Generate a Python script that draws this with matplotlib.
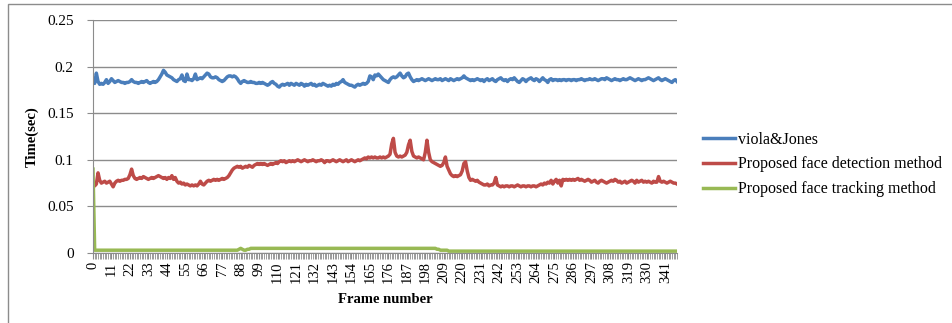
import matplotlib
matplotlib.use("Agg")
import matplotlib.pyplot as plt
from matplotlib.patches import Rectangle
from matplotlib.ticker import MultipleLocator

# Data (one value per frame, frames 0..348)
viola_jones = [
    0.183, 0.182, 0.193, 0.184, 0.181, 0.182, 0.181, 0.183, 0.186, 0.182,
    0.184, 0.187, 0.185, 0.183, 0.184, 0.185, 0.184, 0.183, 0.183, 0.182,
    0.183, 0.183, 0.184, 0.186, 0.184, 0.183, 0.183, 0.182, 0.183, 0.184,
    0.183, 0.184, 0.185, 0.183, 0.182, 0.183, 0.184, 0.183, 0.184, 0.186,
    0.189, 0.192, 0.196, 0.194, 0.191, 0.190, 0.189, 0.188, 0.186, 0.185,
    0.184, 0.186, 0.187, 0.191, 0.185, 0.184, 0.192, 0.186, 0.186, 0.185,
    0.187, 0.192, 0.186, 0.187, 0.188, 0.187, 0.189, 0.191, 0.193, 0.192,
    0.189, 0.188, 0.188, 0.189, 0.188, 0.186, 0.185, 0.184, 0.185, 0.187,
    0.189, 0.190, 0.190, 0.189, 0.190, 0.189, 0.187, 0.184, 0.182, 0.184,
    0.185, 0.184, 0.183, 0.183, 0.184, 0.183, 0.183, 0.182, 0.182, 0.183,
    0.182, 0.183, 0.182, 0.181, 0.180, 0.181, 0.183, 0.184, 0.182, 0.181,
    0.179, 0.178, 0.180, 0.181, 0.180, 0.181, 0.182, 0.180, 0.182, 0.181,
    0.180, 0.182, 0.181, 0.180, 0.182, 0.181, 0.179, 0.181, 0.180, 0.181,
    0.182, 0.180, 0.181, 0.179, 0.180, 0.181, 0.180, 0.182, 0.181, 0.180,
    0.179, 0.180, 0.179, 0.181, 0.180, 0.182, 0.181, 0.183, 0.184, 0.186,
    0.183, 0.182, 0.181, 0.180, 0.180, 0.179, 0.178, 0.180, 0.181, 0.180,
    0.181, 0.182, 0.181, 0.182, 0.184, 0.190, 0.189, 0.186, 0.191, 0.190,
    0.192, 0.190, 0.188, 0.186, 0.185, 0.184, 0.183, 0.186, 0.188, 0.189,
    0.188, 0.189, 0.191, 0.193, 0.190, 0.188, 0.189, 0.192, 0.193, 0.189,
    0.186, 0.184, 0.185, 0.186, 0.185, 0.186, 0.187, 0.186, 0.185, 0.186,
    0.187, 0.186, 0.185, 0.186, 0.187, 0.186, 0.186, 0.187, 0.185, 0.186,
    0.187, 0.186, 0.185, 0.187, 0.186, 0.185, 0.186, 0.187, 0.186, 0.187,
    0.188, 0.190, 0.188, 0.187, 0.186, 0.185, 0.186, 0.185, 0.186, 0.187,
    0.186, 0.185, 0.186, 0.184, 0.186, 0.187, 0.185, 0.186, 0.187, 0.185,
    0.184, 0.186, 0.187, 0.188, 0.186, 0.185, 0.186, 0.184, 0.186, 0.187,
    0.186, 0.188, 0.186, 0.184, 0.183, 0.185, 0.187, 0.186, 0.184, 0.186,
    0.187, 0.188, 0.186, 0.185, 0.187, 0.186, 0.184, 0.186, 0.188, 0.186,
    0.185, 0.183, 0.186, 0.187, 0.185, 0.186, 0.186, 0.185, 0.186, 0.185,
    0.186, 0.186, 0.185, 0.186, 0.186, 0.185, 0.186, 0.186, 0.185, 0.186,
    0.186, 0.187, 0.186, 0.185, 0.186, 0.186, 0.187, 0.186, 0.186, 0.187,
    0.186, 0.185, 0.186, 0.187, 0.187, 0.186, 0.188, 0.187, 0.186, 0.185,
    0.186, 0.187, 0.186, 0.186, 0.185, 0.186, 0.187, 0.186, 0.186, 0.187,
    0.188, 0.187, 0.186, 0.185, 0.186, 0.187, 0.186, 0.185, 0.186, 0.186,
    0.187, 0.188, 0.187, 0.186, 0.185, 0.186, 0.187, 0.188, 0.186, 0.185,
    0.186, 0.187, 0.186, 0.185, 0.184, 0.183, 0.185, 0.186, 0.184,
]

face_detection = [
    0.075, 0.072, 0.074, 0.086, 0.078, 0.075, 0.076, 0.077, 0.075, 0.076,
    0.077, 0.074, 0.071, 0.075, 0.077, 0.078, 0.077, 0.078, 0.078, 0.079,
    0.079, 0.080, 0.084, 0.090, 0.083, 0.080, 0.079, 0.080, 0.081, 0.080,
    0.082, 0.081, 0.080, 0.079, 0.080, 0.081, 0.080, 0.081, 0.082, 0.083,
    0.082, 0.081, 0.080, 0.081, 0.079, 0.081, 0.080, 0.083, 0.079, 0.081,
    0.077, 0.075, 0.076, 0.074, 0.075, 0.073, 0.074, 0.073, 0.072, 0.073,
    0.072, 0.073, 0.072, 0.074, 0.077, 0.074, 0.073, 0.075, 0.077, 0.078,
    0.077, 0.078, 0.079, 0.078, 0.079, 0.078, 0.079, 0.080, 0.079, 0.080,
    0.081, 0.083, 0.086, 0.089, 0.091, 0.092, 0.093, 0.092, 0.093, 0.091,
    0.092, 0.093, 0.092, 0.094, 0.093, 0.092, 0.094, 0.095, 0.096, 0.095,
    0.096, 0.095, 0.096, 0.095, 0.094, 0.095, 0.096, 0.095, 0.096, 0.097,
    0.096, 0.098, 0.099, 0.098, 0.099, 0.097, 0.098, 0.099, 0.098, 0.099,
    0.098, 0.099, 0.100, 0.099, 0.098, 0.099, 0.100, 0.099, 0.098, 0.099,
    0.099, 0.100, 0.099, 0.098, 0.099, 0.099, 0.100, 0.099, 0.097, 0.099,
    0.099, 0.098, 0.099, 0.100, 0.099, 0.098, 0.099, 0.100, 0.099, 0.098,
    0.099, 0.100, 0.098, 0.099, 0.100, 0.099, 0.098, 0.099, 0.100, 0.099,
    0.100, 0.101, 0.102, 0.101, 0.103, 0.102, 0.103, 0.102, 0.103, 0.102,
    0.102, 0.103, 0.102, 0.103, 0.102, 0.103, 0.104, 0.106, 0.117, 0.123,
    0.108, 0.104, 0.103, 0.104, 0.103, 0.104, 0.105, 0.108, 0.116, 0.121,
    0.109, 0.104, 0.103, 0.102, 0.103, 0.102, 0.101, 0.100, 0.108, 0.121,
    0.108, 0.100, 0.098, 0.097, 0.096, 0.095, 0.094, 0.093, 0.094, 0.097,
    0.103, 0.093, 0.089, 0.085, 0.083, 0.082, 0.083, 0.082, 0.083, 0.084,
    0.088, 0.096, 0.098, 0.088, 0.081, 0.078, 0.079, 0.078, 0.077, 0.078,
    0.076, 0.075, 0.074, 0.073, 0.073, 0.074, 0.072, 0.073, 0.073, 0.075,
    0.081, 0.073, 0.072, 0.071, 0.072, 0.071, 0.072, 0.072, 0.071, 0.072,
    0.072, 0.071, 0.072, 0.073, 0.072, 0.071, 0.072, 0.072, 0.071, 0.072,
    0.072, 0.071, 0.072, 0.072, 0.071, 0.072, 0.073, 0.074, 0.073, 0.075,
    0.074, 0.076, 0.075, 0.078, 0.074, 0.077, 0.079, 0.075, 0.078, 0.072,
    0.079, 0.078, 0.079, 0.078, 0.079, 0.078, 0.079, 0.078, 0.079, 0.080,
    0.078, 0.079, 0.078, 0.077, 0.078, 0.079, 0.078, 0.076, 0.077, 0.078,
    0.076, 0.075, 0.077, 0.078, 0.077, 0.076, 0.075, 0.076, 0.077, 0.078,
    0.077, 0.079, 0.078, 0.076, 0.077, 0.075, 0.076, 0.077, 0.075, 0.076,
    0.077, 0.078, 0.077, 0.075, 0.078, 0.076, 0.077, 0.078, 0.076, 0.077,
    0.076, 0.077, 0.076, 0.075, 0.077, 0.076, 0.076, 0.082, 0.077, 0.076,
    0.077, 0.076, 0.075, 0.076, 0.077, 0.076, 0.075, 0.075, 0.074,
]

face_tracking = [
    0.090, 0.003, 0.003, 0.003, 0.003, 0.003, 0.003, 0.003, 0.003, 0.003,
    0.003, 0.003, 0.003, 0.003, 0.003, 0.003, 0.003, 0.003, 0.003, 0.003,
    0.003, 0.003, 0.003, 0.003, 0.003, 0.003, 0.003, 0.003, 0.003, 0.003,
    0.003, 0.003, 0.003, 0.003, 0.003, 0.003, 0.003, 0.003, 0.003, 0.003,
    0.003, 0.003, 0.003, 0.003, 0.003, 0.003, 0.003, 0.003, 0.003, 0.003,
    0.003, 0.003, 0.003, 0.003, 0.003, 0.003, 0.003, 0.003, 0.003, 0.003,
    0.003, 0.003, 0.003, 0.003, 0.003, 0.003, 0.003, 0.003, 0.003, 0.003,
    0.003, 0.003, 0.003, 0.003, 0.003, 0.003, 0.003, 0.003, 0.003, 0.003,
    0.003, 0.003, 0.003, 0.003, 0.003, 0.003, 0.003, 0.004, 0.005, 0.004,
    0.003, 0.003, 0.004, 0.004, 0.005, 0.005, 0.005, 0.005, 0.005, 0.005,
    0.005, 0.005, 0.005, 0.005, 0.005, 0.005, 0.005, 0.005, 0.005, 0.005,
    0.005, 0.005, 0.005, 0.005, 0.005, 0.005, 0.005, 0.005, 0.005, 0.005,
    0.005, 0.005, 0.005, 0.005, 0.005, 0.005, 0.005, 0.005, 0.005, 0.005,
    0.005, 0.005, 0.005, 0.005, 0.005, 0.005, 0.005, 0.005, 0.005, 0.005,
    0.005, 0.005, 0.005, 0.005, 0.005, 0.005, 0.005, 0.005, 0.005, 0.005,
    0.005, 0.005, 0.005, 0.005, 0.005, 0.005, 0.005, 0.005, 0.005, 0.005,
    0.005, 0.005, 0.005, 0.005, 0.005, 0.005, 0.005, 0.005, 0.005, 0.005,
    0.005, 0.005, 0.005, 0.005, 0.005, 0.005, 0.005, 0.005, 0.005, 0.005,
    0.005, 0.005, 0.005, 0.005, 0.005, 0.005, 0.005, 0.005, 0.005, 0.005,
    0.005, 0.005, 0.005, 0.005, 0.005, 0.005, 0.005, 0.005, 0.005, 0.005,
    0.005, 0.005, 0.005, 0.005, 0.005, 0.004, 0.004, 0.003, 0.003, 0.003,
    0.003, 0.003, 0.002, 0.002, 0.002, 0.002, 0.002, 0.002, 0.002, 0.002,
    0.002, 0.002, 0.002, 0.002, 0.002, 0.002, 0.002, 0.002, 0.002, 0.002,
    0.002, 0.002, 0.002, 0.002, 0.002, 0.002, 0.002, 0.002, 0.002, 0.002,
    0.002, 0.002, 0.002, 0.002, 0.002, 0.002, 0.002, 0.002, 0.002, 0.002,
    0.002, 0.002, 0.002, 0.002, 0.002, 0.002, 0.002, 0.002, 0.002, 0.002,
    0.002, 0.002, 0.002, 0.002, 0.002, 0.002, 0.002, 0.002, 0.002, 0.002,
    0.002, 0.002, 0.002, 0.002, 0.002, 0.002, 0.002, 0.002, 0.002, 0.002,
    0.002, 0.002, 0.002, 0.002, 0.002, 0.002, 0.002, 0.002, 0.002, 0.002,
    0.002, 0.002, 0.002, 0.002, 0.002, 0.002, 0.002, 0.002, 0.002, 0.002,
    0.002, 0.002, 0.002, 0.002, 0.002, 0.002, 0.002, 0.002, 0.002, 0.002,
    0.002, 0.002, 0.002, 0.002, 0.002, 0.002, 0.002, 0.002, 0.002, 0.002,
    0.002, 0.002, 0.002, 0.002, 0.002, 0.002, 0.002, 0.002, 0.002, 0.002,
    0.002, 0.002, 0.002, 0.002, 0.002, 0.002, 0.002, 0.002, 0.002, 0.002,
    0.002, 0.002, 0.002, 0.002, 0.002, 0.002, 0.002, 0.002, 0.002,
]

frames = list(range(len(viola_jones)))
tick_frames = list(range(0, len(frames), 11))
y_ticks = [0, 0.05, 0.1, 0.15, 0.2, 0.25]
y_labels = ['0', '0.05', '0.1', '0.15', '0.2', '0.25']

plt.rcParams['font.family'] = ['Liberation Serif', 'DejaVu Serif']

fig = plt.figure(figsize=(9.52, 3.23), dpi=100)
ax = fig.add_axes([93 / 952, 1 - 253 / 323, (677 - 93) / 952, (253 - 20) / 323])

# outer chart border
fig.patches.append(Rectangle((8 / 952, -0.1), 1.1, 1 - 4 / 323 + 0.1,
                             transform=fig.transFigure, fill=False,
                             edgecolor='#8c8c8c', linewidth=1.0))

ax.plot(frames, viola_jones, color='#4A7EBB', linewidth=2.5, label='viola&Jones')
ax.plot(frames, face_detection, color='#BE4B48', linewidth=2.5,
        label='Proposed face detection method')
ax.plot(frames, face_tracking, color='#98B954', linewidth=2.5,
        label='Proposed face tracking method')

ax.set_xlim(0, len(frames) - 1)
ax.set_ylim(0, 0.25)
ax.set_yticks(y_ticks)
ax.set_yticklabels(y_labels, fontsize=11)
ax.set_xticks(tick_frames)
ax.set_xticklabels([str(t) for t in tick_frames], rotation=90, fontsize=10.5)
ax.xaxis.set_minor_locator(MultipleLocator(1))
ax.tick_params(axis='x', which='both', length=4, color='#8c8c8c', pad=2)
ax.tick_params(axis='y', length=4, color='#8c8c8c', pad=10)

ax.grid(axis='y', color='#8c8c8c', linewidth=1.0)
ax.set_axisbelow(True)
for s in ['top', 'right']:
    ax.spines[s].set_visible(False)
for s in ['left', 'bottom']:
    ax.spines[s].set_color('#8c8c8c')

ax.set_ylabel('Time(sec)', fontsize=10.5, fontweight='bold', labelpad=6)
ax.set_xlabel('Frame number', fontsize=10.5, fontweight='bold', labelpad=7)

ax.legend(loc='center left', bbox_to_anchor=(1.02, 0.38), frameon=False,
          fontsize=11.5, handlelength=2.0, handletextpad=0.2, labelspacing=0.55)

fig.savefig('out.png', dpi=100)
